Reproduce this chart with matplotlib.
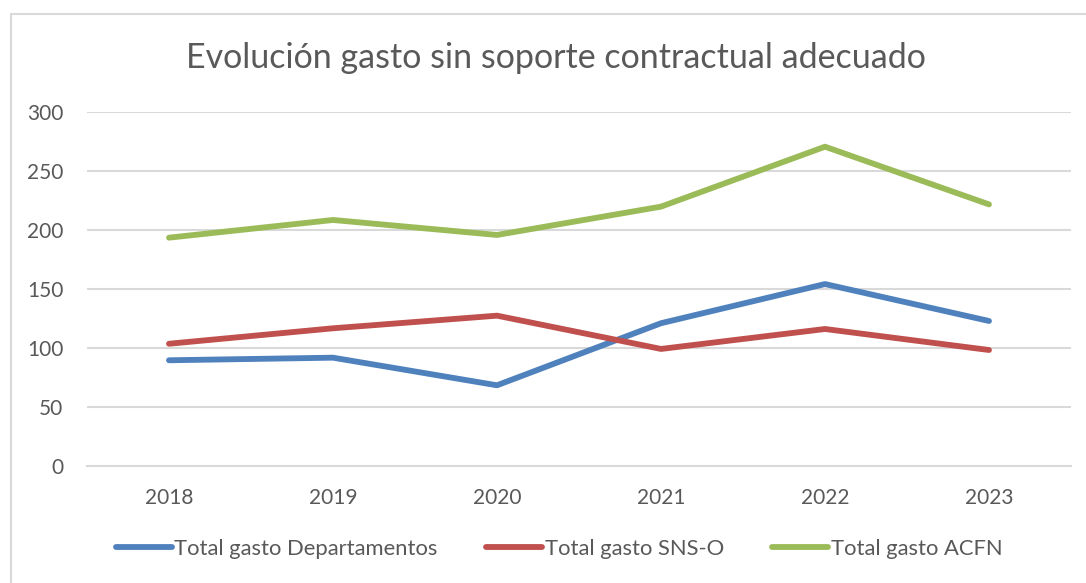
import matplotlib
matplotlib.use("Agg")
import matplotlib.pyplot as plt
from matplotlib.patches import Rectangle
from matplotlib.lines import Line2D

years = ["2018", "2019", "2020", "2021", "2022", "2023"]
departamentos = [89.6, 91.8, 68.4, 121.0, 154.2, 122.9]
sns_o = [103.6, 116.7, 127.4, 99.2, 116.1, 98.3]
acfn = [193.5, 208.5, 195.8, 219.8, 270.6, 221.7]

series_names = ["Total gasto Departamentos", "Total gasto SNS-O", "Total gasto ACFN"]
colors = ["#4F81BD", "#C0504D", "#9BBB59"]
y_ticks = [0, 50, 100, 150, 200, 250, 300]

plt.rcParams['font.family'] = ['Lato', 'DejaVu Sans']

W, H = 1086, 583
fig = plt.figure(figsize=(W / 100, H / 100), dpi=100)
fig.patch.set_facecolor("white")

# chart border
fig.patches.append(Rectangle((11 / W, 1 - 590 / H), (1090 - 11) / W, (590 - 14) / H,
                             transform=fig.transFigure, fill=False,
                             edgecolor="#D9D9D9", linewidth=1.5, clip_on=False))

left, right, top, bottom = 87, 1071, 112, 466
ax = fig.add_axes([left / W, 1 - bottom / H, (right - left) / W, (bottom - top) / H])

x = list(range(len(years)))
for vals, c, name in zip([departamentos, sns_o, acfn], colors, series_names):
    ax.plot(x, vals, color=c, linewidth=4.2, solid_capstyle="round",
            solid_joinstyle="round", label=name, zorder=3)

ax.set_xlim(-0.5, len(years) - 0.5)
ax.set_ylim(0, 300)
ax.set_yticks(y_ticks)
ax.set_xticks(x)
ax.set_xticklabels(years)
ax.grid(axis="y", color="#D9D9D9", linewidth=1.5, zorder=0)
ax.set_axisbelow(True)
for s in ["top", "right", "left"]:
    ax.spines[s].set_visible(False)
ax.spines["bottom"].set_color("#D9D9D9")
ax.spines["bottom"].set_linewidth(1.5)
ax.tick_params(axis="both", length=0, labelsize=15, labelcolor="#595959")
ax.tick_params(axis="y", pad=17)
ax.tick_params(axis="x", pad=16)

fig.text(556 / W, 1 - 58 / H, "Evolución gasto sin soporte contractual adecuado",
         ha="center", va="center", fontsize=24.5, color="#595959")

handles = [Line2D([0], [0], color=c, linewidth=4.2, solid_capstyle="round") for c in colors]
leg = fig.legend(handles, series_names, loc="center", bbox_to_anchor=(559 / W, 1 - 549 / H),
                 ncol=3, frameon=False, fontsize=15.8, handlelength=2.55, handletextpad=0.12,
                 columnspacing=2.2)
for t in leg.get_texts():
    t.set_color("#595959")

fig.savefig("out.png", dpi=100, facecolor="white")
